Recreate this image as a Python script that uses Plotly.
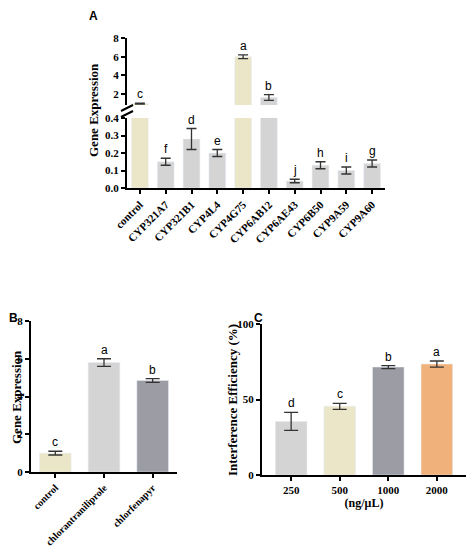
import plotly.graph_objects as go

# panel A
genes = ["control", "CYP321A7", "CYP321B1", "CYP4L4", "CYP4G75", "CYP6AB12",
         "CYP6AE43", "CYP6B50", "CYP9A59", "CYP9A60"]
gene_expr = [1.0, 0.15, 0.28, 0.20, 6.0, 1.65, 0.04, 0.13, 0.10, 0.14]
gene_err = [0.05, 0.02, 0.06, 0.02, 0.2, 0.3, 0.01, 0.02, 0.02, 0.02]
gene_letters = ["c", "f", "d", "e", "a", "b", "j", "h", "i", "g"]

# panel B
treatments = ["control", "chlorantraniliprole", "chlorfenapyr"]
treat_expr = [1.0, 5.8, 4.85]
treat_err = [0.1, 0.2, 0.1]
treat_letters = ["c", "a", "b"]

# panel C
doses = ["250", "500", "1000", "2000"]
efficiency = [35.5, 45.5, 71.5, 73.5]
eff_err = [6, 2, 1, 2]
eff_letters = ["d", "c", "b", "a"]

BEIGE = "#ebe6c8"
LGRAY = "#d4d4d4"
DGRAY = "#9c9ca4"
ORANGE = "#f0b27a"

gene_colors = [BEIGE if g in ("control", "CYP4G75") else LGRAY for g in genes]
dose_pos = list(range(len(doses)))

OFF = 8
W, H = 474 - 2 * OFF, 557 - 2 * OFF


def fx(px):
    return (px - OFF) / W


def fy(py):
    return 1 - (py - OFF) / H


fig = go.Figure()
errA = dict(type="data", array=gene_err, color="#333", thickness=1.3, width=5)
fig.add_trace(go.Bar(x=genes, y=gene_expr, marker_color=gene_colors, error_y=errA,
                     xaxis="x", yaxis="y", width=0.65))
fig.add_trace(go.Bar(x=genes, y=gene_expr, marker_color=gene_colors, error_y=errA,
                     xaxis="x", yaxis="y2", width=0.65))
fig.add_trace(go.Bar(x=treatments, y=treat_expr, marker_color=[BEIGE, LGRAY, DGRAY],
                     error_y=dict(type="data", array=treat_err, color="#333", thickness=1.3, width=7),
                     xaxis="x3", yaxis="y3", width=0.65))
fig.add_trace(go.Bar(x=dose_pos, y=efficiency, marker_color=[LGRAY, BEIGE, DGRAY, ORANGE],
                     error_y=dict(type="data", array=eff_err, color="#333", thickness=1.3, width=7),
                     xaxis="x4", yaxis="y4", width=0.65))

tickf = dict(family="Liberation Serif", size=11, color="black", weight="bold")
ax = dict(showline=True, linecolor="black", linewidth=2, ticks="outside", tickwidth=2,
          ticklen=4, tickcolor="black", showgrid=False, zeroline=False, tickfont=tickf,
          automargin=False)

fig.update_layout(
    width=W, height=H, margin=dict(l=0, r=0, t=0, b=0),
    plot_bgcolor="white", paper_bgcolor="white", showlegend=False,
    xaxis=dict(ax, domain=[fx(127), fx(385)], tickangle=-45, anchor="y"),
    yaxis=dict(ax, domain=[fy(188), fy(118)], range=[0, 0.4],
               tickvals=[0, 0.1, 0.2, 0.3, 0.4], tickformat=".1f"),
    yaxis2=dict(ax, domain=[fy(105), fy(38)], range=[0.85, 8], tickvals=[2, 4, 6, 8],
                anchor="x"),
    xaxis3=dict(ax, domain=[fx(31), fx(177)], tickangle=-45, anchor="y3",
                tickfont=dict(tickf, size=10)),
    yaxis3=dict(ax, domain=[fy(472), fy(321)], range=[0, 8], tickvals=[0, 2, 4, 6, 8],
                anchor="x3"),
    xaxis4=dict(ax, domain=[fx(262), fx(466)], anchor="y4", range=[-0.6, 3.6],
                tickvals=dose_pos, ticktext=doses,
                title=dict(text="<b>(ng/μL)</b>", font=dict(family="Liberation Serif", size=12,
                                                            color="black"), standoff=2)),
    yaxis4=dict(ax, domain=[fy(475), fy(324)], range=[0, 100], tickvals=[0, 50, 100],
                anchor="x4"),
)

let_font = dict(family="Liberation Sans", size=12, color="black")
ann = []
for g, v, e, l in zip(genes, gene_expr, gene_err, gene_letters):
    ann.append(dict(x=g, y=v + e, xref="x", yref="y2" if v > 0.4 else "y", text=l,
                    showarrow=False, yanchor="bottom", font=let_font))
for t, v, e, l in zip(treatments, treat_expr, treat_err, treat_letters):
    ann.append(dict(x=t, y=v + e, xref="x3", yref="y3", text=l, showarrow=False,
                    yanchor="bottom", font=let_font))
for d, v, e, l in zip(dose_pos, efficiency, eff_err, eff_letters):
    ann.append(dict(x=d, y=v + e, xref="x4", yref="y4", text=l, showarrow=False,
                    yanchor="bottom", font=let_font))

title_font = dict(family="Liberation Serif", size=13, color="black")
for txt, px, py in [("Gene Expression", 94, 110), ("Gene Expression", 16, 397),
                    ("Interference Efficiency (%)", 232, 400)]:
    ann.append(dict(x=fx(px), y=fy(py), xref="paper", yref="paper",
                    text="<b>%s</b>" % txt, textangle=-90, showarrow=False,
                    xanchor="center", yanchor="middle", font=title_font))
panel_font = dict(family="Liberation Sans", size=12, color="black")
for txt, px, py in [("A", 93, 16), ("B", 13, 318), ("C", 258, 318)]:
    ann.append(dict(x=fx(px), y=fy(py), xref="paper", yref="paper",
                    text="<b>%s</b>" % txt, showarrow=False, xanchor="center",
                    yanchor="middle", font=panel_font))
fig.update_layout(annotations=ann)

# axis break marks
for py in [108, 114]:
    fig.add_shape(type="line", xref="paper", yref="paper", x0=fx(121), x1=fx(133),
                  y0=fy(py + 3), y1=fy(py - 3), line=dict(color="black", width=2))

fig.write_html("out.html")
